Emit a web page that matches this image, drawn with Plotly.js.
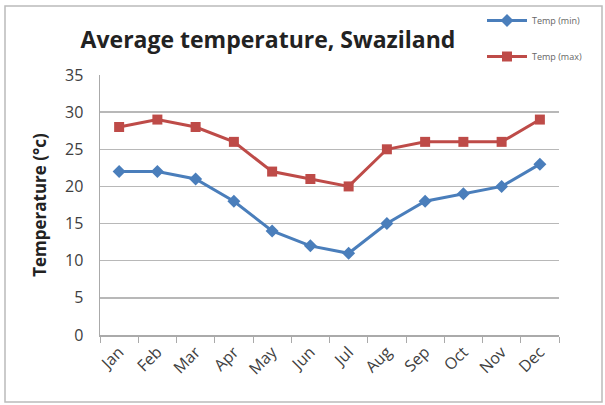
<!DOCTYPE html>
<html><head><meta charset="utf-8">
<script src="https://cdn.plot.ly/plotly-3.0.1.min.js"></script>
<style>html,body{margin:0;padding:0;background:#fff}#c{width:605px;height:405px}</style>
</head><body><div id="c"></div>
<script>
const months = ["Jan","Feb","Mar","Apr","May","Jun","Jul","Aug","Sep","Oct","Nov","Dec"];
const tempMin = [22,22,21,18,14,12,11,15,18,19,20,23];
const tempMax = [28,29,28,26,22,21,20,25,26,26,26,29];

const W=605,H=405,L=100,R=46,T=75,B=70;
const pw=W-L-R, ph=H-T-B;
const px = v => (v-L)/pw, py = v => (H-B-v)/ph;

const traces = [
 {x:months,y:tempMin,name:"Temp (min)",type:"scatter",mode:"lines+markers",
  line:{color:"#4a7ebb",width:3},marker:{symbol:"diamond",size:10,color:"#4a7ebb"},legendgroup:"a"},
 {x:months,y:tempMax,name:"Temp (max)",type:"scatter",mode:"lines+markers",
  line:{color:"#be4b48",width:3},marker:{symbol:"square",size:10,color:"#be4b48"},legendgroup:"b"}
];
const layout = {
 width:W,height:H,margin:{l:L,r:R,t:T,b:B,autoexpand:false},
 paper_bgcolor:"#fff",plot_bgcolor:"#fff",
 font:{family:"'Open Sans', sans-serif",color:"#404040"},
 title:{text:"<b>Average temperature, Swaziland</b>",x:268/W,xanchor:"center",y:1-40/H,yanchor:"middle",
  font:{size:23,color:"#222",family:"'Open Sans', sans-serif"}},
 xaxis:{type:"category",tickson:"boundaries",ticks:"outside",ticklen:6,tickcolor:"#aaa",
  showline:true,linecolor:"#aaa",linewidth:1.5,showgrid:false,tickangle:-45,
  tickfont:{size:16,color:"#404040"},range:[-0.5,11.5]},
 yaxis:{range:[0,35],dtick:5,showgrid:true,gridcolor:"#b8b8b8",gridwidth:1.5,
  showline:true,linecolor:"#aaa",linewidth:1.5,ticks:"",zeroline:false,ticklabelstandoff:12,
  tickfont:{size:16,color:"#404040"},
  title:{text:"<b>Temperature (°c)</b>",font:{size:17,color:"#222"},standoff:14}},
 legend:{x:px(482),xanchor:"left",y:py(6),yanchor:"top",font:{size:9,color:"#666"},
  traceorder:"grouped",tracegroupgap:17,bgcolor:"rgba(0,0,0,0)",itemwidth:40},
 shapes:[{type:"rect",xref:"paper",yref:"paper",x0:px(5),x1:px(602),y0:py(402),y1:py(6),
  line:{color:"#bbb",width:1.5},fillcolor:"rgba(0,0,0,0)",layer:"below"}]
};
Plotly.newPlot("c",traces,layout,{staticPlot:true});
</script></body></html>
